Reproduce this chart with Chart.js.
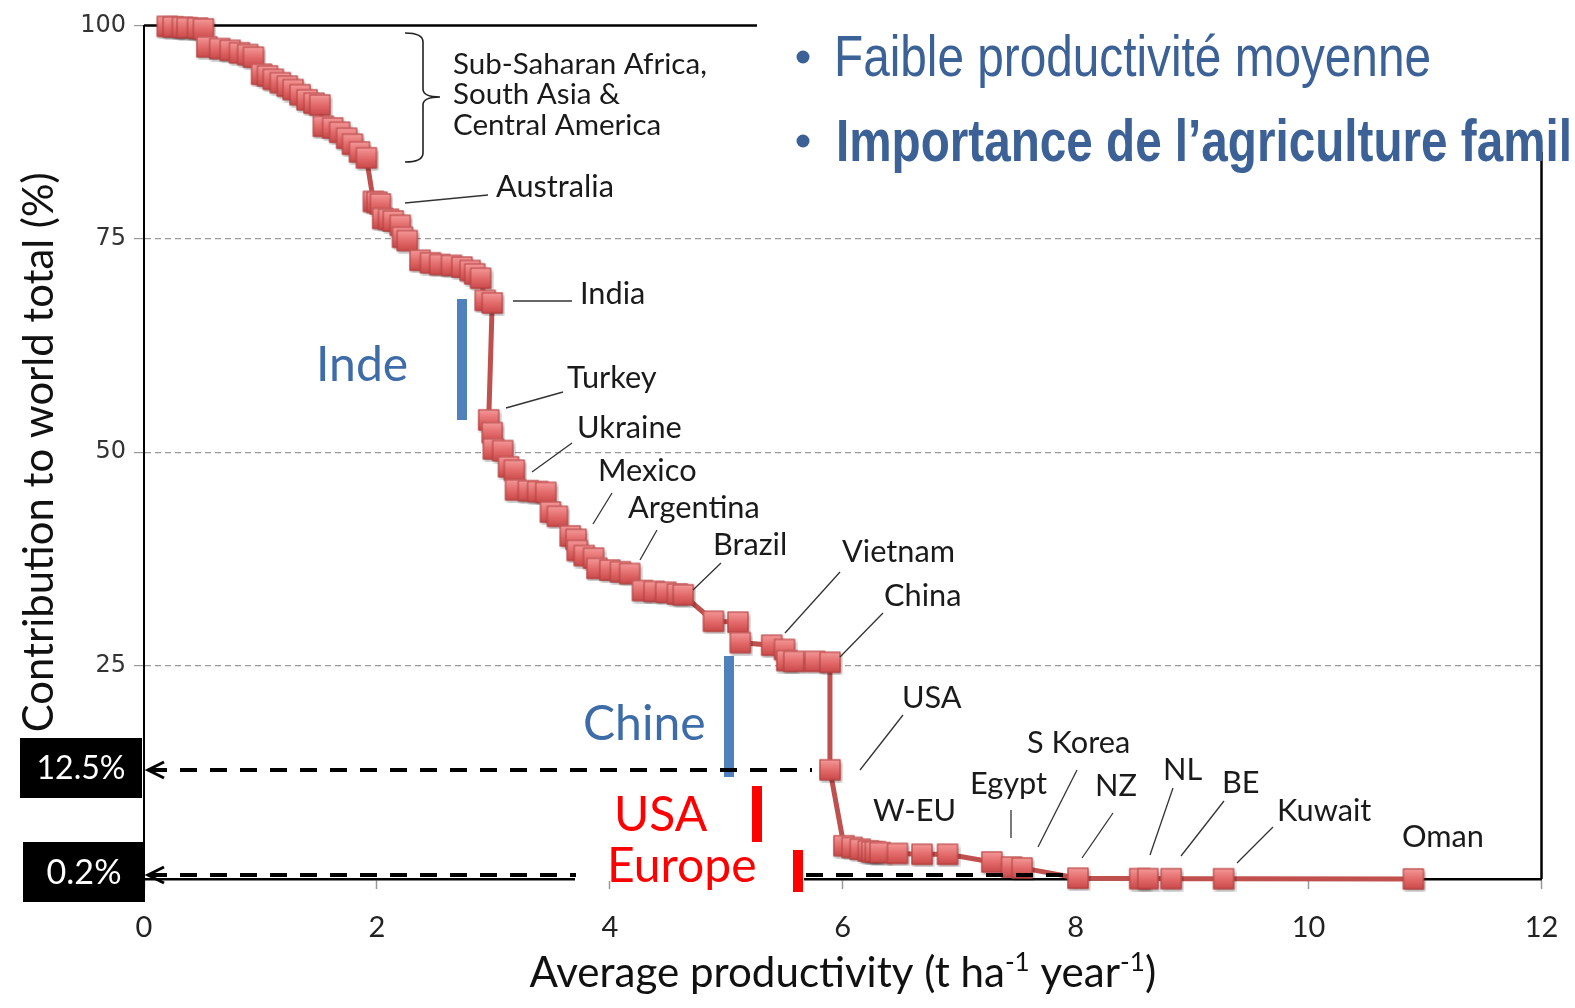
<!DOCTYPE html>
<html>
<head>
<meta charset="utf-8">
<script src="https://cdn.jsdelivr.net/npm/chart.js@4.4.1/dist/chart.umd.min.js"></script>
<style>
  html, body { margin: 0; padding: 0; background: #fff; }
  #myChart { display: block; }
</style>
</head>
<body>
<canvas id="myChart" width="1575" height="1008"></canvas>
<script>
// average productivity (t/ha/yr), sorted, one point per country
const productivity = [
  0.20, 0.25, 0.33, 0.37, 0.46, 0.51,
  0.54, 0.65, 0.74, 0.82, 0.89, 0.94,
  1.01, 1.06, 1.11, 1.17, 1.23, 1.28, 1.34, 1.40,
  1.46, 1.51, 1.54,
  1.62, 1.68, 1.74, 1.79, 1.85, 1.91,
  1.97, 2.00, 2.03, 2.05, 2.10, 2.14, 2.20, 2.22, 2.26,
  2.37, 2.46, 2.54, 2.64, 2.73, 2.80, 2.84, 2.89, 2.93, 2.99,
  2.96, 2.99, 3.00, 3.08, 3.13, 3.18, 3.19, 3.30, 3.38, 3.45, 3.49, 3.55,
  3.66, 3.71, 3.72, 3.78, 3.86, 3.89, 4.00, 4.09, 4.17,
  4.28, 4.38, 4.48, 4.58, 4.63,
  4.89, 5.10, 5.12, 5.39, 5.50, 5.52, 5.58, 5.76, 5.89,
  5.89,
  6.01, 6.08, 6.15, 6.22, 6.25, 6.28, 6.32, 6.47, 6.68, 6.90,
  7.28, 7.45, 7.54,
  8.02, 8.55, 8.62, 8.82, 9.27, 10.90
];
// cumulative contribution to world total (%)
const contribution = [
  99.9, 99.85, 99.8, 99.75, 99.7, 99.6,
  97.5, 97.3, 97.1, 96.8, 96.6, 96.3,
  94.3, 94.1, 93.7, 93.3, 92.9, 92.5, 91.9, 91.3,
  90.9, 90.7, 88.2,
  88.0, 87.5, 86.8, 86.1, 85.2, 84.5,
  79.4, 79.3, 79.1, 77.4, 77.3, 77.1, 76.6, 75.2, 74.8,
  72.5, 72.2, 72.0, 71.9, 71.7, 71.3, 70.9, 70.4, 67.8, 67.5,
  53.8, 52.3, 50.4, 50.2, 48.3, 47.9, 45.6, 45.5, 45.4, 45.3, 43.0, 42.5,
  40.2, 39.8, 38.5, 37.9, 37.6, 36.4, 36.2, 36.0, 35.8,
  33.8, 33.7, 33.6, 33.4, 33.3,
  30.2, 30.1, 27.7, 27.4, 26.9, 25.6, 25.5, 25.5, 25.4,
  12.8,
  3.9, 3.7, 3.5, 3.3, 3.2, 3.2, 3.1, 3.0, 2.9, 2.9,
  2.0, 1.4, 1.3,
  0.1, 0.05, 0.05, 0.04, 0.03, 0.01
];
const xTicks = [0, 2, 4, 6, 8, 10, 12];
const yTicks = [0, 25, 50, 75, 100];
const markerLines = [12.8, 0.5]; // 12.5% and 0.2% reference lines

// annotation text, placed in pixels (left x, middle of capitals)
const countryLabels = [
  { t: "Australia", x: 496, y: 186, line: [405, 203, 488, 195] },
  { t: "India", x: 580, y: 293, line: [513, 301, 572, 301] },
  { t: "Turkey", x: 567, y: 377, line: [506, 408, 563, 392] },
  { t: "Ukraine", x: 577, y: 427, line: [532, 472, 572, 443] },
  { t: "Mexico", x: 598, y: 470, line: [593, 524, 612, 493] },
  { t: "Argentina", x: 628, y: 507, line: [640, 560, 657, 530] },
  { t: "Brazil", x: 713, y: 544, line: [693, 590, 721, 563] },
  { t: "Vietnam", x: 842, y: 551, line: [785, 633, 840, 572] },
  { t: "China", x: 884, y: 595, line: [840, 657, 883, 613] },
  { t: "USA", x: 902, y: 697, line: [860, 770, 903, 715] },
  { t: "W-EU", x: 873, y: 810 },
  { t: "Egypt", x: 970, y: 783, line: [1011, 810, 1011, 838] },
  { t: "S Korea", x: 1027, y: 742, line: [1038, 847, 1077, 770] },
  { t: "NZ", x: 1095, y: 785, line: [1082, 858, 1113, 813] },
  { t: "NL", x: 1163, y: 769, line: [1150, 855, 1173, 788] },
  { t: "BE", x: 1222, y: 782, line: [1181, 856, 1224, 801] },
  { t: "Kuwait", x: 1277, y: 810, line: [1237, 863, 1273, 827] },
  { t: "Oman", x: 1402, y: 836 },
];
const regionLines = ["Sub-Saharan Africa,", "South Asia &", "Central America"];

const FAMILY = "Lato, 'Noto Sans', sans-serif";
const measureCtx = document.createElement("canvas").getContext("2d");
function fitSize(text, family, weight, width) {
  measureCtx.font = weight + " 100px " + family;
  return (100 * width) / measureCtx.measureText(text).width;
}
const labelSize = fitSize("Australia", FAMILY, "normal", 118);
const regionSize = fitSize("Sub-Saharan Africa,", FAMILY, "normal", 254);
const bigSize = (fitSize("Europe", FAMILY, "normal", 150) + fitSize("Inde", FAMILY, "normal", 92)) / 2;
const yTitleSize = fitSize("Contribution to world total (%)", FAMILY, "normal", 560);

function makeSquare() {
  const c = document.createElement("canvas");
  c.width = 26;
  c.height = 26;
  const g = c.getContext("2d");
  const grad = g.createLinearGradient(0, 2, 0, 24);
  grad.addColorStop(0, "#F59C9C");
  grad.addColorStop(0.5, "#E46C6C");
  grad.addColorStop(1, "#C84646");
  g.shadowColor = "rgba(0,0,0,0.35)";
  g.shadowOffsetX = 1.5;
  g.shadowOffsetY = 2;
  g.shadowBlur = 3;
  g.fillStyle = grad;
  g.fillRect(2.5, 2.5, 21, 21);
  g.shadowColor = "transparent";
  g.strokeStyle = "#B03E3E";
  g.lineWidth = 1;
  g.strokeRect(3, 3, 20, 20);
  return c;
}

function drawLabel(ctx, text, x, capMid, size, color) {
  ctx.font = size + "px " + FAMILY;
  ctx.fillStyle = color;
  ctx.textAlign = "left";
  ctx.textBaseline = "alphabetic";
  ctx.fillText(text, x, capMid + 0.358 * size);
}

function drawStretched(ctx, text, x, y, size, weight, width, refText) {
  ctx.font = weight + " " + size + "px 'Liberation Sans', Arial, sans-serif";
  const w = ctx.measureText(refText || text).width;
  ctx.save();
  ctx.translate(x, y);
  ctx.scale(width / w, 1);
  ctx.textAlign = "left";
  ctx.textBaseline = "alphabetic";
  ctx.fillText(text, 0, 0);
  ctx.restore();
}

function dashedArrow(ctx, y, segments) {
  ctx.save();
  ctx.strokeStyle = "#000";
  ctx.lineWidth = 4;
  ctx.setLineDash([17, 13]);
  segments.forEach(function (s) {
    ctx.beginPath();
    ctx.moveTo(s[0], y);
    ctx.lineTo(s[1], y);
    ctx.stroke();
  });
  ctx.setLineDash([]);
  ctx.lineWidth = 3;
  ctx.beginPath();
  ctx.moveTo(164, y - 8);
  ctx.lineTo(148, y);
  ctx.lineTo(164, y + 8);
  ctx.stroke();
  ctx.restore();
}

function blackBox(ctx, text, x, y, w, h, tw) {
  ctx.fillStyle = "#000";
  ctx.fillRect(x, y, w, h);
  const s = fitSize(text, FAMILY, "normal", tw);
  ctx.font = s + "px " + FAMILY;
  ctx.fillStyle = "#fff";
  ctx.textAlign = "center";
  ctx.textBaseline = "alphabetic";
  ctx.fillText(text, x + w / 2, y + h / 2 + 0.358 * s);
}

const overlay = {
  id: "overlay",
  beforeDatasetsDraw(chart) {
    const { ctx, chartArea: a } = chart;
    ctx.save();
    ctx.strokeStyle = "#000";
    ctx.lineWidth = 2.5;
    ctx.beginPath();
    ctx.moveTo(a.left, a.top);
    ctx.lineTo(a.right, a.top);
    ctx.lineTo(a.right, a.bottom);
    ctx.stroke();
    ctx.restore();
  },
  afterDatasetsDraw(chart) {
    const { ctx, chartArea: a } = chart;
    const yScale = chart.scales.y;
    ctx.save();

    // leader lines + country names
    ctx.strokeStyle = "#333";
    ctx.lineWidth = 1.3;
    countryLabels.forEach(function (l) {
      if (l.line) {
        ctx.beginPath();
        ctx.moveTo(l.line[0], l.line[1]);
        ctx.lineTo(l.line[2], l.line[3]);
        ctx.stroke();
      }
      drawLabel(ctx, l.t, l.x, l.y, labelSize, "#1a1a1a");
    });

    // bracket for the low-productivity group
    ctx.strokeStyle = "#222";
    ctx.lineWidth = 1.6;
    ctx.beginPath();
    ctx.moveTo(405, 33);
    ctx.quadraticCurveTo(423, 33, 423, 42);
    ctx.lineTo(423, 89);
    ctx.quadraticCurveTo(423, 97, 440, 97);
    ctx.quadraticCurveTo(423, 97, 423, 105);
    ctx.lineTo(423, 153);
    ctx.quadraticCurveTo(423, 162, 405, 162);
    ctx.stroke();
    regionLines.forEach(function (t, i) {
      drawLabel(ctx, t, 453, 63 + i * 30.5, regionSize, "#1a1a1a");
    });

    // gap in the axis behind "Europe"
    ctx.fillStyle = "#fff";
    ctx.fillRect(575, 845, 229, 36);

    // country markers
    ctx.fillStyle = "#4F81BD";
    ctx.fillRect(457, 299, 10, 121);
    ctx.fillRect(724, 656, 10, 121);
    ctx.fillStyle = "#FF0000";
    ctx.fillRect(752, 786, 10, 56);
    ctx.fillRect(793, 850, 10, 42);

    ctx.font = bigSize + "px " + FAMILY;
    ctx.textAlign = "left";
    ctx.textBaseline = "alphabetic";
    ctx.fillStyle = "#3E6CA8";
    ctx.fillText("Inde", 316, 381);
    ctx.fillText("Chine", 583, 740);
    ctx.fillStyle = "#FF0000";
    ctx.fillText("USA", 614, 831);
    ctx.fillText("Europe", 607, 882);

    // 12.5% and 0.2% reference arrows
    const y1 = Math.round(yScale.getPixelForValue(markerLines[0]));
    const y2 = Math.round(yScale.getPixelForValue(markerLines[1]));
    dashedArrow(ctx, y1, [[150, 812]]);
    dashedArrow(ctx, y2, [[150, 576], [806, 1075]]);
    blackBox(ctx, "12.5%", 20, y1 - 32, 122, 60, 89);
    blackBox(ctx, "0.2%", 23, y2 - 33, 122, 60, 75);

    // x axis title with superscripts
    const xs = fitSize("Average productivity (t ha year )", FAMILY, "normal", 588);
    const sup = xs * 0.62;
    const parts = [["Average productivity (t ha", false], ["-1", true], [" year", false], ["-1", true], [")", false]];
    ctx.textAlign = "left";
    ctx.textBaseline = "alphabetic";
    let total = 0;
    parts.forEach(function (p) {
      ctx.font = (p[1] ? sup : xs) + "px " + FAMILY;
      total += ctx.measureText(p[0]).width;
    });
    let cx = (a.left + a.right) / 2 - total / 2;
    ctx.fillStyle = "#111";
    parts.forEach(function (p) {
      ctx.font = (p[1] ? sup : xs) + "px " + FAMILY;
      ctx.fillText(p[0], cx, p[1] ? 987 - xs * 0.38 : 987);
      cx += ctx.measureText(p[0]).width;
    });

    // slide text in the top right corner
    ctx.fillStyle = "#fff";
    ctx.fillRect(757, 0, 818, 152);
    ctx.fillStyle = "#3B6196";
    ctx.beginPath();
    ctx.arc(803, 57, 6.5, 0, 2 * Math.PI);
    ctx.fill();
    ctx.beginPath();
    ctx.arc(803, 141, 6.5, 0, 2 * Math.PI);
    ctx.fill();
    drawStretched(ctx, "Faible productivité moyenne", 834, 76, 57, "normal", 597);
    drawStretched(ctx, "Importance de l’agriculture familiale", 836, 161, 59, "bold", 736, "Importance de l’agriculture famil");

    ctx.restore();
  },
};

const myChart = new Chart(document.getElementById("myChart"), {
  type: "scatter",
  data: {
    datasets: [
      {
        data: productivity.map((x, i) => ({ x: x, y: contribution[i] })),
        showLine: true,
        borderColor: "#C0504D",
        borderWidth: 5,
        pointStyle: makeSquare(),
        pointRadius: 11,
        tension: 0,
        clip: false,
      },
    ],
  },
  options: {
    responsive: false,
    animation: false,
    devicePixelRatio: 1,
    layout: { padding: { top: 25.5, right: 33.5, left: 0, bottom: 0 } },
    plugins: { legend: { display: false }, tooltip: { enabled: false } },
    scales: {
      x: {
        type: "linear",
        min: 0,
        max: 12,
        afterFit(s) {
          s.height = 129;
          s.paddingLeft = 0;
          s.paddingRight = 0;
        },
        afterBuildTicks(s) { s.ticks = xTicks.map((v) => ({ value: v })); },
        ticks: { font: { family: FAMILY, size: 29 }, color: "#222", padding: 21, maxRotation: 0 },
        grid: { drawOnChartArea: false, tickLength: 10, tickColor: "#999", tickWidth: 1.5 },
        border: { color: "#000", width: 2.5 },
      },
      y: {
        min: 0,
        max: 100,
        afterFit(s) {
          s.width = 144;
          s.paddingTop = 0;
          s.paddingBottom = 0;
        },
        afterBuildTicks(s) { s.ticks = yTicks.map((v) => ({ value: v })); },
        ticks: { font: { family: "'DejaVu Sans', sans-serif", size: 24 }, color: "#333", padding: 8 },
        grid: {
          color: (c) => (c.tick && c.tick.value > 0 && c.tick.value < 100 ? "#9a9a9a" : "rgba(0,0,0,0)"),
          lineWidth: 1.2,
          tickLength: 10,
          tickColor: "#999",
          tickBorderDash: [],
        },
        border: { color: "#000", width: 2, dash: [6, 4] },
        title: {
          display: true,
          text: "Contribution to world total (%)",
          font: { family: FAMILY, size: yTitleSize },
          color: "#111",
          padding: { top: 40 - yTitleSize * 0.6, bottom: 0 },
        },
      },
    },
  },
  plugins: [overlay],
});
</script>
</body>
</html>
